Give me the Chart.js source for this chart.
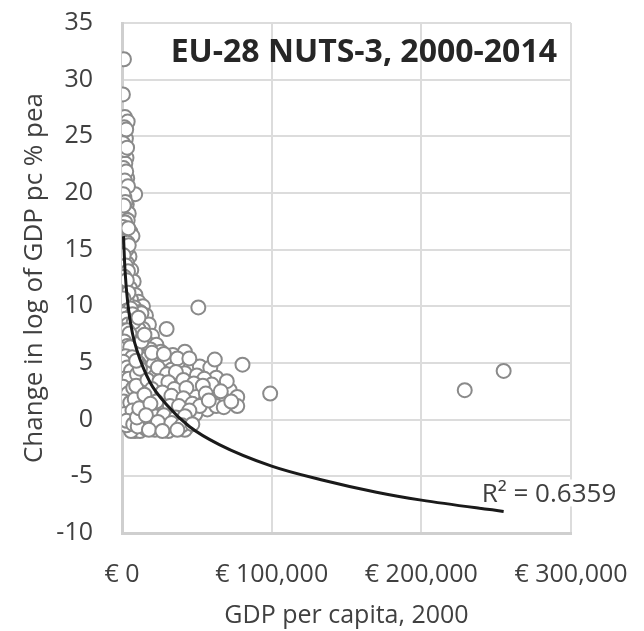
<!DOCTYPE html>
<html>
<head>
<meta charset="utf-8">
<script src="https://cdn.jsdelivr.net/npm/chart.js@4.4.1/dist/chart.umd.min.js"></script>
<style>
  body { margin: 0; background: #fff; }
  #wrap { width: 644px; height: 631px; }
</style>
</head>
<body>
<div id="wrap"><canvas id="scatter" width="644" height="631"></canvas></div>
<script>
// GDP per capita in 2000 (EUR) for each NUTS-3 region
const gdp2000 = [
  1300, 600, 2000, 3800, 1000, 2600, 1500, 900, 3000, 2200,
  1200, 3500, 800, 2400, 8800, 1600, 3200, 600, 2800, 4500,
  1400, 3000, 900, 5500, 2000, 7000, 1200, 3800, 700, 2600,
  5000, 1500, 3400, 900, 6200, 2300, 4200, 1100, 7800, 3000,
  5400, 1800, 9000, 700, 3600, 11000, 6000, 2400, 14000, 8200,
  1300, 4800, 12000, 16000, 2000, 13000, 6500, 3000, 10000, 18000,
  1200, 5200, 14000, 29800, 8000, 2000, 20000, 4200, 900, 10000,
  16000, 6500, 23000, 2600, 12000, 19000, 4000, 8000, 1500, 26000,
  34000, 42000, 17000, 25000, 14000, 30000, 5500, 38000, 11000, 2200,
  21000, 46000, 52000, 59000, 80500, 4000, 33000, 8500, 27000, 16000,
  42000, 50000, 63000, 55000, 1200, 12000, 22000, 33000, 8700, 3000,
  45000, 38000, 19000, 27000, 14000, 6000, 72000, 60000, 52000, 2000,
  31000, 40000, 11000, 23000, 67000, 77000, 48000, 99000, 35000, 17000,
  7000, 29000, 37000, 44000, 77000, 57000, 63000, 3500, 13000, 21000,
  17000, 26000, 34000, 40000, 49000, 9000, 5000, 14000, 22000, 30000,
  38000, 44000, 13000, 19000, 27000, 35000, 43000, 8700, 22000, 31000,
  42000, 12000, 16000, 51000, 229000, 255000, 1000, 2500, 1500, 2000,
  3000, 1500, 2500, 4000, 5000, 6000, 3000, 4000, 3000, 62000,
  60000, 10000, 7000, 5000, 18000, 25000, 9000, 6000, 11000,
  1500, 2800, 700, 2000, 3400, 1000, 2800, 1900, 4000, 900,
  2300, 1200, 3800, 2200, 600, 4200, 1700, 3000, 4500, 1100,
  2600, 4000, 1600, 600, 3200, 2000, 4300, 1000, 3000, 5800,
  800, 7000, 2500, 4000, 7800, 600, 3500, 5000, 1500, 3500,
  700, 5500, 2500, 6800, 800, 3500, 6000, 1000, 4500, 10000,
  800, 4000, 7500, 1200, 5500, 8500, 1800, 7000, 3000, 7500,
  10500, 10000, 11500, 9500, 12000, 13000, 9500, 15000, 11000,
  20000, 28000, 37000, 45000, 24000, 30000, 36000, 41000, 48000, 54000,
  17000, 25000, 31000, 35000, 43000, 56000, 20000, 27000, 33000, 41000,
  47000, 52000, 15000, 23000, 32000, 38000, 45000, 19000, 28000, 36000,
  42000, 16000, 24000, 33000, 40000, 47000, 18000, 27000, 37000, 70000,
  66000, 58000, 68000, 73000
];

// Change in log of GDP pc, % per annum, 2000-2014 (same order)
const growth = [
  31.8, 28.7, 26.7, 26.3, 25.3, 24.8, 24.0, 23.0, 23.1, 22.6,
  21.7, 21.3, 20.9, 20.3, 19.9, 19.6, 19.0, 18.6, 18.4, 18.2,
  17.8, 17.2, 16.9, 16.6, 16.2, 16.2, 15.7, 15.6, 15.0, 14.8,
  14.4, 14.0, 13.8, 13.4, 13.2, 12.9, 12.6, 12.3, 12.2, 11.9,
  11.6, 11.4, 11.0, 11.0, 10.8, 10.4, 10.6, 10.3, 10.0, 9.9,
  9.9, 9.6, 9.5, 9.2, 9.4, 9.4, 9.0, 8.8, 8.6, 8.4,
  8.3, 8.2, 8.0, 8.0, 7.9, 7.7, 7.4, 7.4, 7.1, 7.2,
  6.9, 6.8, 6.6, 6.5, 6.4, 6.2, 6.1, 5.9, 5.8, 6.0,
  5.7, 6.0, 5.6, 5.5, 5.3, 5.2, 5.2, 5.0, 5.0, 4.9,
  4.9, 4.7, 4.7, 4.6, 4.85, 4.7, 4.4, 4.3, 4.2, 4.1,
  4.1, 3.9, 3.7, 3.6, 4.1, 3.7, 3.8, 3.7, 3.5, 3.4,
  3.1, 3.3, 3.2, 3.0, 2.9, 2.9, 2.6, 2.8, 2.0, 2.6,
  2.5, 2.4, 2.3, 2.2, 1.9, 2.0, 2.3, 2.3, 1.9, 1.8,
  1.9, 1.6, 1.8, 1.5, 1.2, 0.9, 1.2, 1.3, 1.2, 1.1,
  0.9, 0.8, 0.6, 0.9, 0.5, 0.7, 0.2, 0.1, 0.3, 0.0,
  -0.1, -0.2, -0.3, -0.5, -0.6, -0.5, -0.7, -1.0, -0.9, -1.0,
  -0.9, -1.0, -0.8, 9.9, 2.6, 4.3, 8.5, 6.8, 5.2, 4.0,
  3.0, 2.0, 1.0, 0.0, -0.5, -1.0, -0.5, 9.0, 10.5, 5.3,
  3.1, 1.5, 4.0, 3.0, 2.5, 1.5, 6.0, 7.5, 8.0,
  25.8, 25.6, 24.4, 23.8, 24.0, 22.2, 21.9, 21.1, 20.6, 19.9,
  19.2, 18.9, 17.6, 17.4, 17.0, 16.9, 15.3, 15.0, 15.4, 14.5,
  13.6, 13.1, 12.6, 12.0, 12.3, 11.1, 11.2, 10.7, 9.6, 9.8,
  9.3, 9.3, 8.9, 8.4, 8.6, 7.9, 7.9, 7.6, 6.9, 6.5,
  6.2, 6.4, 5.6, 5.5, 5.1, 4.6, 4.3, 3.6, 3.6, 4.0,
  2.9, 2.3, 2.8, 1.6, 1.5, 1.8, 0.5, 0.8, -0.1, -0.4,
  -0.6, 0.2, 1.0, 3.0, 4.5, 6.9, 5.2, 7.5, 9.0,
  5.9, 5.8, 5.4, 5.4, 4.6, 4.0, 4.2, 3.5, 3.2, 3.0,
  3.5, 3.4, 3.3, 2.7, 2.8, 2.3, 2.7, 2.4, 2.1, 1.9,
  1.4, 1.2, 2.2, 1.6, 1.2, 1.2, 0.8, 1.4, 0.4, 0.2,
  0.3, 0.4, -0.2, -0.3, -0.5, -0.4, -0.9, -1.0, -0.9, 3.4,
  2.5, 1.7, 1.1, 1.6
];

// logarithmic trend line
const trendGdp = [1000, 2000, 4000, 7000, 10000, 18700, 30000, 45000, 65000, 100000, 133000, 170000, 200000, 255000];
const trendGrowth = [16.2, 13.2, 10.1, 7.6, 6.1, 3.3, 1.3, -0.6, -2.2, -4.1, -5.3, -6.4, -7.1, -8.1];

const panelTitle = 'EU-28 NUTS-3, 2000-2014';
const rSquaredLabel = 'R\u00B2 = 0.6359';
const xTitle = 'GDP per capita, 2000';
const yTitle = 'Change in log of GDP pc % pea';

const points = gdp2000.map((g, i) => ({ x: g, y: growth[i] }));
const trend = trendGdp.map((g, i) => ({ x: g, y: trendGrowth[i] }));

const FONT = '"Open Sans", "Liberation Sans", sans-serif';

const chartNotes = {
  id: 'chartNotes',
  afterDatasetsDraw(chart) {
    const { ctx, chartArea, scales } = chart;
    ctx.save();
    // panel heading inside the plot
    ctx.font = 'bold 32px ' + FONT;
    ctx.fillStyle = '#262626';
    ctx.textAlign = 'right';
    ctx.textBaseline = 'alphabetic';
    ctx.fillText(panelTitle, chartArea.right - 14, chartArea.top + 39);

    // R squared label next to the end of the trend line
    const lastX = scales.x.getPixelForValue(trendGdp[trendGdp.length - 1]);
    const lastY = scales.y.getPixelForValue(trendGrowth[trendGrowth.length - 1]);
    ctx.font = '26px ' + FONT;
    ctx.textAlign = 'left';
    const w = ctx.measureText(rSquaredLabel).width;
    ctx.fillStyle = '#fff';
    ctx.fillRect(lastX - 24, lastY - 32, w + 4, 27);
    ctx.fillStyle = '#404040';
    ctx.fillText(rSquaredLabel, lastX - 22, lastY - 9);
    ctx.restore();
  }
};

new Chart(document.getElementById('scatter'), {
  type: 'scatter',
  data: {
    datasets: [
      {
        label: 'trend',
        data: trend,
        showLine: true,
        borderColor: '#1a1a1a',
        borderWidth: 3,
        pointRadius: 0,
        cubicInterpolationMode: 'monotone',
        order: 0
      },
      {
        label: 'NUTS-3',
        data: points,
        pointRadius: 7,
        pointBorderWidth: 2,
        borderColor: '#8a8a8a',
        backgroundColor: '#ffffff',
        order: 1
      }
    ]
  },
  options: {
    responsive: false,
    animation: false,
    layout: { padding: { top: 23, right: 73, left: 0, bottom: 0 } },
    plugins: {
      legend: { display: false },
      tooltip: { enabled: false }
    },
    scales: {
      x: {
        type: 'linear',
        min: 0,
        max: 300000,
        ticks: {
          stepSize: 100000,
          padding: 27,
          color: '#404040',
          font: { family: FONT, size: 25 },
          callback: (v) => '\u20AC ' + Number(v).toLocaleString('en-US')
        },
        grid: { color: '#dcdcdc', lineWidth: 2, drawTicks: false },
        border: { color: '#cfcfcf', width: 3 },
        title: {
          display: true,
          text: xTitle,
          color: '#404040',
          font: { family: FONT, size: 25 },
          padding: { top: 0, bottom: 0 }
        },
        afterFit: (s) => {
          s.height = 98;
          s.paddingLeft = 0;
          s.paddingRight = 0;
        }
      },
      y: {
        min: -10,
        max: 35,
        ticks: {
          stepSize: 5,
          padding: 29,
          color: '#404040',
          font: { family: FONT, size: 25 }
        },
        grid: { color: '#dcdcdc', lineWidth: 2, drawTicks: false },
        border: { color: '#cfcfcf', width: 3 },
        title: {
          display: true,
          text: yTitle,
          color: '#404040',
          font: { family: FONT, size: 26 },
          padding: { top: 19, bottom: 0 }
        },
        afterFit: (s) => {
          s.width = 122;
          s.paddingTop = 0;
          s.paddingBottom = 0;
        }
      }
    }
  },
  plugins: [chartNotes]
});
</script>
</body>
</html>
